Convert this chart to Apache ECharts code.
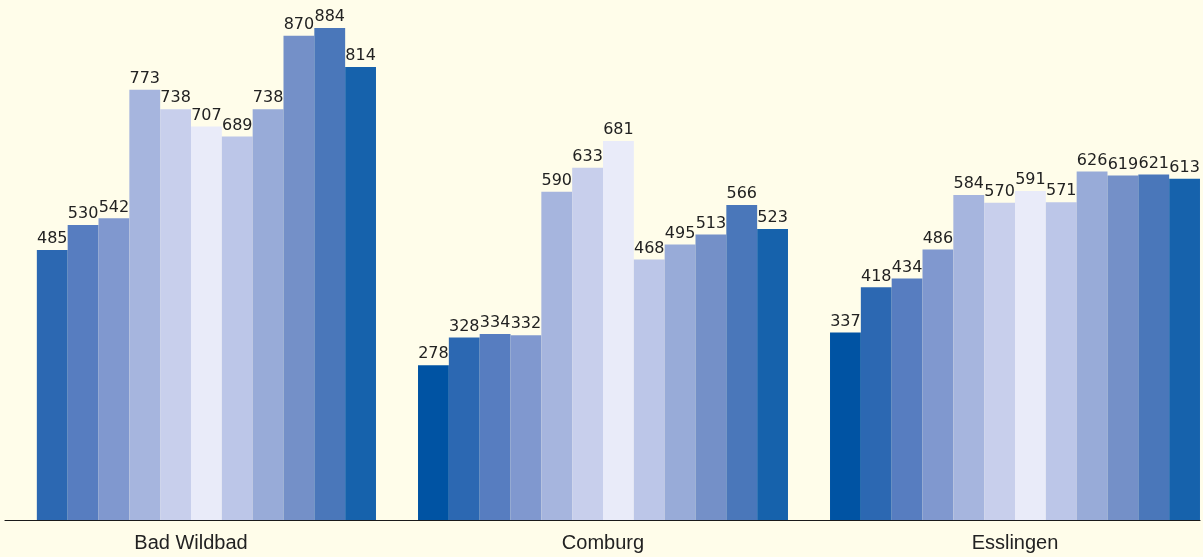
<!DOCTYPE html>
<html>
<head>
<meta charset="utf-8">
<style>
html,body{margin:0;padding:0;background:#fffdea;overflow:hidden;width:1203px;height:557px;}
#chart{position:absolute;left:-15px;top:0;width:1236px;height:557px;}
</style>
<script src="https://cdn.jsdelivr.net/npm/echarts@6/dist/echarts.min.js"></script>
</head>
<body>
<div id="chart"></div>
<script>
var categories = ['Bad Wildbad', 'Comburg', 'Esslingen'];
var badWildbad = [null, 485, 530, 542, 773, 738, 707, 689, 738, 870, 884, 814];
var comburg    = [278, 328, 334, 332, 590, 633, 681, 468, 495, 513, 566, 523];
var esslingen  = [337, 418, 434, 486, 584, 570, 591, 571, 626, 619, 621, 613];
var colors = ['#0053a3', '#2c68b2', '#577dc0', '#8098cf', '#a6b5de', '#c8cfec',
              '#e9ebf9', '#bcc6e8', '#98abd8', '#7490c8', '#4a77ba', '#1662ac'];

var series = [];
for (var i = 0; i < colors.length; i++) {
  series.push({
    type: 'bar',
    xAxisIndex: 0,
    yAxisIndex: 0,
    data: [badWildbad[i], comburg[i], esslingen[i]],
    itemStyle: { color: colors[i] },
    barGap: '0%',
    barCategoryGap: '10.2%',
    label: {
      show: true,
      position: 'top',
      distance: 3,
      color: '#222',
      fontSize: 16,
      fontFamily: 'DejaVu Sans, sans-serif'
    },
    silent: true
  });
}

var chart = echarts.init(document.getElementById('chart'), null, { renderer: 'canvas' });
chart.setOption({
  backgroundColor: '#fffdea',
  animation: false,
  grid: [
    { left: 0, right: 0, top: 28, bottom: 37 },
    { left: 20, right: 21, top: 28, bottom: 37 }
  ],
  xAxis: [
    {
      type: 'category',
      gridIndex: 0,
      data: categories,
      axisLine: { show: false },
      axisTick: { show: false },
      axisLabel: {
        color: '#222',
        fontSize: 20,
        margin: 13,
        fontFamily: 'Liberation Sans, Arial, sans-serif'
      }
    },
    {
      type: 'value',
      gridIndex: 1,
      min: 0,
      max: 1,
      axisLine: { show: true, lineStyle: { color: '#1a1a1a', width: 1.2 } },
      axisTick: { show: false },
      axisLabel: { show: false },
      splitLine: { show: false }
    }
  ],
  yAxis: [
    { type: 'value', gridIndex: 0, min: 0, max: 'dataMax', show: false, splitLine: { show: false } },
    { type: 'value', gridIndex: 1, min: 0, max: 1, show: false, splitLine: { show: false } }
  ],
  series: series
});
</script>
</body>
</html>
